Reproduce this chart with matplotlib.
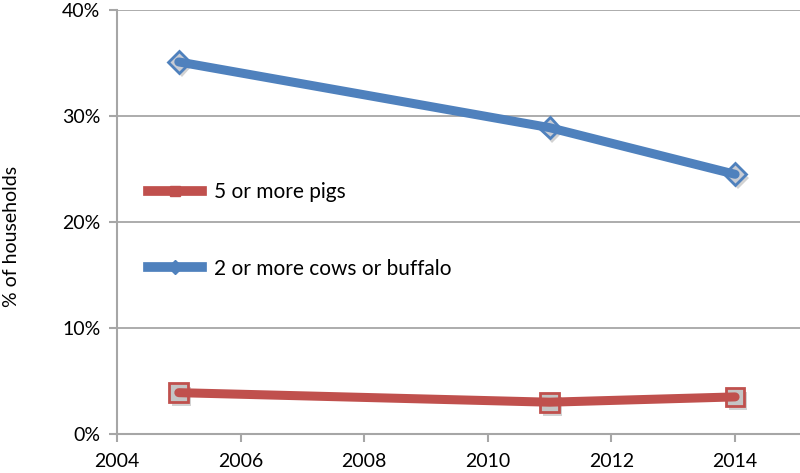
import matplotlib
matplotlib.use('Agg')
import matplotlib.pyplot as plt
import matplotlib.patheffects as pe
from matplotlib.lines import Line2D
from matplotlib.ticker import FuncFormatter

plt.rcParams['font.family'] = ['Lato', 'DejaVu Sans']

# data
years = [2005, 2011, 2014]
pigs = [3.9, 3.0, 3.5]
cows = [35.1, 28.9, 24.5]
labels = ['5 or more pigs', '2 or more cows or buffalo']

red = '#c0504d'
blue = '#4f81bd'
grid = '#a6a6a6'

fig = plt.figure(figsize=(8, 4.73), dpi=100)
ax = fig.add_axes([117 / 800, 39 / 473, 683 / 800, 424 / 473])

shadow = [pe.withSimplePatchShadow(offset=(2, -3), shadow_rgbFace='#808080', alpha=0.35)]

# markers first, lines on top of them
ax.plot(years, pigs, ls='none', marker='s', markersize=13.5, mfc='#c4c4c4',
        mec=red, mew=2, zorder=3, path_effects=shadow)
ax.plot(years, cows, ls='none', marker='D', markersize=11, mfc='#c8ccd4',
        mec=blue, mew=2, zorder=3, path_effects=shadow)
ax.plot(years, pigs, color=red, lw=6.5, solid_capstyle='round', zorder=4)
ax.plot(years, cows, color=blue, lw=6.5, solid_capstyle='round', zorder=4)

ax.set_xlim(2004, 2015.05)
ax.set_ylim(0, 40)
ax.set_xticks(range(2004, 2015, 2))
ax.set_yticks(range(0, 41, 10))
ax.yaxis.set_major_formatter(FuncFormatter(lambda v, p: '%d%%' % v))

ax.grid(axis='y', color=grid, lw=1.3)
ax.set_axisbelow(True)
for s in ['top', 'right']:
    ax.spines[s].set_visible(False)
for s in ['left', 'bottom']:
    ax.spines[s].set_color(grid)
    ax.spines[s].set_linewidth(1.5)
ax.tick_params(colors=grid, labelcolor='black', labelsize=14, length=6, width=1.5)
ax.tick_params(axis='x', pad=8)
ax.tick_params(axis='y', pad=6)

fig.text(12 / 800, 0.5, '% of households', rotation=90, va='center', ha='center', fontsize=14)

handles = [
    Line2D([], [], color=red, lw=7, marker='s', markersize=7, mfc=red, mec=red),
    Line2D([], [], color=blue, lw=7, marker='D', markersize=7, mfc=blue, mec=blue),
]
ax.legend(handles, labels, loc='center left', bbox_to_anchor=(0.045, 0.48),
          frameon=False, fontsize=15, handlelength=2.6, handletextpad=0.6,
          labelspacing=2.7, borderpad=0, borderaxespad=0)

plt.savefig('out.png', dpi=100)
